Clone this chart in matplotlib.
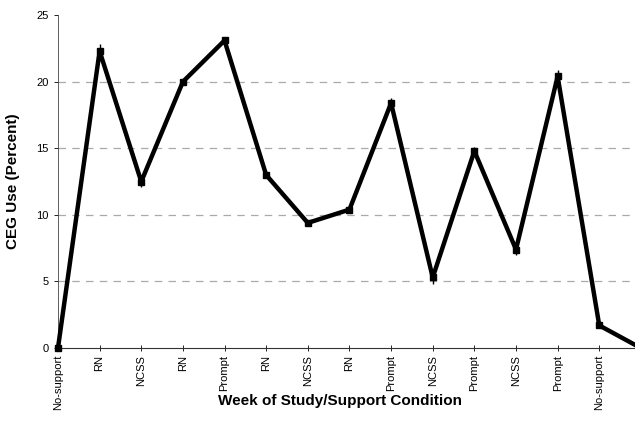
import numpy as np
import matplotlib
matplotlib.use("Agg")
import matplotlib.pyplot as plt

plt.rcParams['font.family'] = ['Liberation Sans', 'DejaVu Sans']

# Weekly condition and CEG use (percent)
conditions = ["No-support", "RN", "NCSS", "RN", "Prompt", "RN", "NCSS", "RN",
              "Prompt", "NCSS", "Prompt", "NCSS", "Prompt", "No-support", "No-support"]
ceg_use = [0.0, 22.3, 12.5, 20.0, 23.1, 13.0, 9.4, 10.4, 18.4, 5.3, 14.8, 7.4, 20.4, 1.7, 0.0]
ceg_err = [0.0, 0.5, 0.4, 0.2, 0.2, 0.2, 0.2, 0.2, 0.4, 0.5, 0.3, 0.4, 0.5, 0.2, 0.0]
grid_levels = [5, 10, 15, 20]

fig = plt.figure(figsize=(6.35, 4.34), dpi=100)
ax = fig.add_axes([0.0913, 0.198, 0.918, 0.767])

x = np.arange(len(ceg_use))
for g in grid_levels:
    ax.axhline(g, color="#aaaaaa", lw=0.9, ls=(0, (6, 5)), zorder=1)

ax.errorbar(x, ceg_use, yerr=ceg_err, color="black", lw=3.2, marker="s", ms=4.5,
            elinewidth=1, capsize=0, zorder=3, clip_on=False)

ax.set_xlim(0, 14)
ax.set_ylim(0, 25)
ax.set_yticks([0, 5, 10, 15, 20, 25])
ax.set_xticks(x)
ax.set_xticklabels(conditions, rotation=90, fontsize=8)
ax.tick_params(axis="y", labelsize=8, length=3, width=0.6, direction="out")
ax.tick_params(axis="x", length=4, width=0.6, direction="inout", pad=3)

for side in ["top", "right"]:
    ax.spines[side].set_visible(False)
ax.spines["left"].set_linewidth(0.6)
ax.spines["left"].set_color("#444444")
ax.spines["bottom"].set_linewidth(0.8)
ax.spines["bottom"].set_color("#333333")

ax.set_ylabel("CEG Use (Percent)", fontsize=11, fontweight="bold", labelpad=12)
fig.text(0.536, 0.077, "Week of Study/Support Condition", fontsize=11,
         fontweight="bold", ha="center", va="center")

fig.savefig("out.png", dpi=100)
